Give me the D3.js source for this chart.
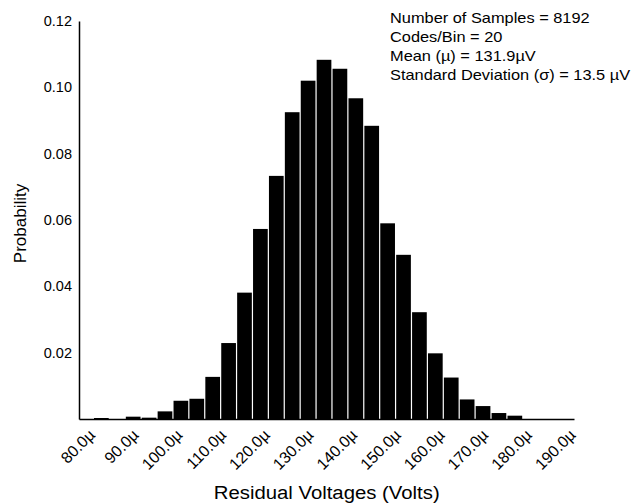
<!DOCTYPE html>
<html>
<head>
<meta charset="utf-8">
<script src="https://cdn.jsdelivr.net/npm/d3@7/dist/d3.min.js"></script>
<style>
  html, body { margin: 0; padding: 0; background: #fff; }
  svg { display: block; font-family: "Liberation Sans", Arial, Helvetica, sans-serif; }
</style>
</head>
<body>
<svg id="chart" width="632" height="504"></svg>
<script>
// Histogram of residual voltages: left edge of each bin (µV) and its probability
const binStartsUV = [80.00, 83.64, 87.28, 90.92, 94.56, 98.20, 101.84, 105.48, 109.12,
  112.76, 116.40, 120.04, 123.68, 127.32, 130.96, 134.60, 138.24, 141.88, 145.52,
  149.16, 152.80, 156.44, 160.08, 163.72, 167.36, 171.00, 174.64];
const binWidthUV = 3.64;
const probability = [0.0003, 0.0000, 0.0007, 0.0004, 0.0023, 0.0055, 0.0061, 0.0127, 0.0229,
  0.0381, 0.0573, 0.0733, 0.0925, 0.1020, 0.1083, 0.1056, 0.0967, 0.0884, 0.0590,
  0.0495, 0.0322, 0.0198, 0.0125, 0.0059, 0.0039, 0.0018, 0.0010];

const xTickValues = [80, 90, 100, 110, 120, 130, 140, 150, 160, 170, 180, 190];
const xTickLabels = ["80.0µ", "90.0µ", "100.0µ", "110.0µ", "120.0µ", "130.0µ",
  "140.0µ", "150.0µ", "160.0µ", "170.0µ", "180.0µ", "190.0µ"];
const yTickValues = [0.02, 0.04, 0.06, 0.08, 0.10, 0.12];
const yTickLabels = ["0.02", "0.04", "0.06", "0.08", "0.10", "0.12"];

const statsLines = [
  "Number of Samples = 8192",
  "Codes/Bin = 20",
  "Mean (µ) = 131.9µV",
  "Standard Deviation (σ) = 13.5 µV"
];
const xTitle = "Residual Voltages (Volts)";
const yTitle = "Probability";

const svg = d3.select("#chart");

const x = d3.scaleLinear().domain([76.7, 190]).range([79, 574]);
const y = d3.scaleLinear().domain([0, 0.12]).range([419, 21]);

const bins = binStartsUV.map((s, i) => ({ start: s, p: probability[i] }));

// bars
svg.append("g")
  .selectAll("rect")
  .data(bins)
  .join("rect")
  .attr("x", d => x(d.start) + 0.6)
  .attr("width", d => x(d.start + binWidthUV) - x(d.start) - 1.2)
  .attr("y", d => y(d.p))
  .attr("height", d => y(0) - y(d.p))
  .attr("fill", "#000");

// y axis
const yAxis = d3.axisLeft(y)
  .tickValues(yTickValues)
  .tickSize(0)
  .tickPadding(7)
  .tickFormat((d, i) => yTickLabels[i]);
const gy = svg.append("g").attr("transform", `translate(${x.range()[0]},0)`).call(yAxis);
gy.select(".domain").attr("stroke", "#000").attr("stroke-width", 1.5);
gy.selectAll("text").attr("font-size", 14.5).attr("fill", "#000")
  .attr("font-family", "'Liberation Sans', Arial, sans-serif");

// x axis
const xAxis = d3.axisBottom(x)
  .tickValues(xTickValues)
  .tickSize(0)
  .tickFormat((d, i) => xTickLabels[i]);
const gx = svg.append("g").attr("transform", `translate(0,${y(0)})`).call(xAxis);
gx.select(".domain").attr("stroke", "#000").attr("stroke-width", 1.5);
gx.selectAll("text")
  .attr("font-size", 16)
  .attr("fill", "#000")
  .attr("font-family", "'Liberation Sans', Arial, sans-serif")
  .attr("text-anchor", "end")
  .attr("dy", null)
  .attr("y", 0)
  .attr("transform", "translate(2,17) rotate(-45)");

// axis titles
svg.append("text")
  .attr("transform", "translate(25.5,223.5) rotate(-90)")
  .attr("text-anchor", "middle")
  .attr("font-size", 17)
  .attr("fill", "#000")
  .text(yTitle);

svg.append("text")
  .attr("transform", "translate(326.7,499.3) scale(1.13,1)")
  .attr("text-anchor", "middle")
  .attr("font-size", 18)
  .attr("fill", "#000")
  .text(xTitle);

// summary statistics block
const stats = svg.append("g").attr("transform", "translate(390,23) scale(1.17,1)");
stats.selectAll("text")
  .data(statsLines)
  .join("text")
  .attr("x", 0)
  .attr("y", (d, i) => i * 19)
  .attr("font-size", 14)
  .attr("fill", "#000")
  .text(d => d);
</script>
</body>
</html>
